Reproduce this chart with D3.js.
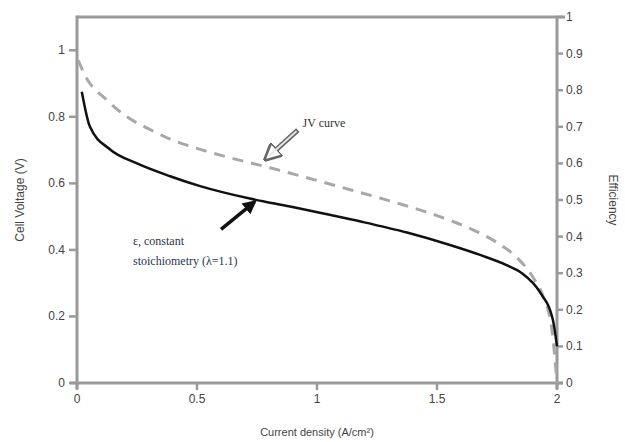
<!DOCTYPE html>
<html>
<head>
<meta charset="utf-8">
<script src="https://cdn.jsdelivr.net/npm/d3@7"></script>
<style>
  body { margin: 0; background: #fff; }
  text { font-family: "Liberation Sans", Arial, sans-serif; }
</style>
</head>
<body>
<script>
// JV curve (dashed, left axis)
var jvCurrent = [0.005, 0.033, 0.125, 0.208, 0.304, 0.388, 0.5, 0.638, 0.804, 1.013, 1.138, 1.333, 1.5, 1.65, 1.75, 1.833, 1.9, 1.942, 1.979, 2.0];
var jvVoltage = [0.97, 0.925, 0.85, 0.8, 0.762, 0.733, 0.705, 0.677, 0.647, 0.606, 0.581, 0.541, 0.503, 0.46, 0.422, 0.377, 0.318, 0.26, 0.16, 0.0];

// efficiency at constant stoichiometry (solid, right axis)
var effCurrent = [0.02, 0.054, 0.138, 0.25, 0.388, 0.513, 0.72, 0.888, 1.042, 1.19, 1.375, 1.554, 1.679, 1.79, 1.854, 1.929, 1.983, 2.0];
var efficiency = [0.796, 0.7, 0.638, 0.6, 0.565, 0.538, 0.504, 0.482, 0.461, 0.44, 0.411, 0.377, 0.35, 0.322, 0.3, 0.248, 0.172, 0.1];

var xTicks = [0, 0.5, 1, 1.5, 2];
var xTickLabels = ['0', '0.5', '1', '1.5', '2'];
var leftTicks = [0, 0.2, 0.4, 0.6, 0.8, 1];
var rightTicks = [0, 0.1, 0.2, 0.3, 0.4, 0.5, 0.6, 0.7, 0.8, 0.9, 1];

var width = 625, height = 442;
var margin = {left: 77, right: 68, top: 17, bottom: 59};
var axisColor = '#9a9a9a';

var svg = d3.select('body').append('svg')
  .attr('width', width)
  .attr('height', height);

var x = d3.scaleLinear().domain([0, 2]).range([margin.left, width - margin.right]);
var yLeft = d3.scaleLinear().domain([0, 1.1]).range([height - margin.bottom, margin.top]);
var yRight = d3.scaleLinear().domain([0, 1]).range([height - margin.bottom, margin.top]);

var x0 = x(0), x1 = x(2), yb = yLeft(0), yt = yRight(1);

// frame: top line, left axis, right axis, bottom axis
svg.append('line').attr('x1', x0).attr('x2', x1 + 8).attr('y1', yt).attr('y2', yt)
  .attr('stroke', axisColor).attr('stroke-width', 3);
svg.append('line').attr('x1', x0).attr('x2', x0).attr('y1', yt - 1.5).attr('y2', yb + 6)
  .attr('stroke', axisColor).attr('stroke-width', 3);
svg.append('line').attr('x1', x1).attr('x2', x1).attr('y1', yt).attr('y2', yb + 6)
  .attr('stroke', axisColor).attr('stroke-width', 3);
svg.append('line').attr('x1', x0 - 7).attr('x2', x1 + 6).attr('y1', yb).attr('y2', yb)
  .attr('stroke', axisColor).attr('stroke-width', 3);

// left ticks
svg.selectAll('.lt').data(leftTicks).enter().append('line')
  .attr('x1', x0 - 8).attr('x2', x0)
  .attr('y1', function(d) { return yLeft(d); })
  .attr('y2', function(d) { return yLeft(d); })
  .attr('stroke', axisColor).attr('stroke-width', 2.5);
svg.selectAll('.ltl').data(leftTicks).enter().append('text')
  .attr('x', x0 - 12)
  .attr('y', function(d) { return yLeft(d) + 4; })
  .attr('text-anchor', 'end')
  .attr('font-size', 12).attr('fill', '#444')
  .text(function(d) { return d === 0 || d === 1 ? d : d.toFixed(1); });

// right ticks
svg.selectAll('.rt').data(rightTicks).enter().append('line')
  .attr('x1', x1).attr('x2', x1 + 6)
  .attr('y1', function(d) { return yRight(d); })
  .attr('y2', function(d) { return yRight(d); })
  .attr('stroke', axisColor).attr('stroke-width', 2.5);
svg.selectAll('.rtl').data(rightTicks).enter().append('text')
  .attr('x', x1 + 9)
  .attr('y', function(d) { return yRight(d) + 4; })
  .attr('font-size', 12).attr('fill', '#444')
  .text(function(d) { return d === 0 || d === 1 ? d : d.toFixed(1); });

// bottom ticks
svg.selectAll('.bt').data(xTicks).enter().append('line')
  .attr('x1', function(d) { return x(d); })
  .attr('x2', function(d) { return x(d); })
  .attr('y1', yb).attr('y2', yb + 7)
  .attr('stroke', axisColor).attr('stroke-width', 2.5);
svg.selectAll('.btl').data(xTicks).enter().append('text')
  .attr('x', function(d) { return x(d); })
  .attr('y', yb + 20)
  .attr('text-anchor', 'middle')
  .attr('font-size', 12).attr('fill', '#444')
  .text(function(d, i) { return xTickLabels[i]; });

// axis titles
svg.append('text')
  .attr('transform', 'translate(24,' + ((yt + yb) / 2) + ') rotate(-90)')
  .attr('text-anchor', 'middle').attr('font-size', 12).attr('fill', '#444')
  .text('Cell Voltage (V)');
svg.append('text')
  .attr('transform', 'translate(609,' + ((yt + yb) / 2) + ') rotate(90)')
  .attr('text-anchor', 'middle').attr('font-size', 12).attr('fill', '#444')
  .text('Efficiency');
svg.append('text')
  .attr('x', x(1)).attr('y', 436)
  .attr('text-anchor', 'middle').attr('font-size', 11).attr('fill', '#444')
  .text('Current density (A/cm²)');

// curves
var jvLine = d3.line()
  .x(function(d, i) { return x(jvCurrent[i]); })
  .y(function(d) { return yLeft(d); })
  .curve(d3.curveMonotoneX);
svg.append('path').datum(jvVoltage)
  .attr('d', jvLine)
  .attr('fill', 'none').attr('stroke', '#a8a8a8')
  .attr('stroke-width', 3).attr('stroke-dasharray', '11,8');

var effLine = d3.line()
  .x(function(d, i) { return x(effCurrent[i]); })
  .y(function(d) { return yRight(d); })
  .curve(d3.curveMonotoneX);
svg.append('path').datum(efficiency)
  .attr('d', effLine)
  .attr('fill', 'none').attr('stroke', '#111')
  .attr('stroke-width', 2.5);

// arrow markers
var defs = svg.append('defs');
defs.append('marker').attr('id', 'headBlack')
  .attr('viewBox', '0 0 10 10').attr('refX', 8).attr('refY', 5)
  .attr('markerWidth', 4).attr('markerHeight', 4).attr('orient', 'auto')
  .append('path').attr('d', 'M0,0 L10,5 L0,10 z').attr('fill', '#111');
defs.append('marker').attr('id', 'headGray')
  .attr('viewBox', '0 0 10 10').attr('refX', 8).attr('refY', 5)
  .attr('markerWidth', 3.5).attr('markerHeight', 3.5).attr('orient', 'auto')
  .append('path').attr('d', 'M0,0 L10,5 L0,10 z')
  .attr('fill', '#fff').attr('stroke', '#666').attr('stroke-width', 1.5);

// efficiency annotation arrow
svg.append('line')
  .attr('x1', x(0.6)).attr('y1', yRight(0.42))
  .attr('x2', x(0.74)).attr('y2', yRight(0.495))
  .attr('stroke', '#111').attr('stroke-width', 3.5)
  .attr('marker-end', 'url(#headBlack)');

// JV annotation arrow (hollow)
svg.append('line')
  .attr('x1', x(0.92)).attr('y1', yLeft(0.76))
  .attr('x2', x(0.79)).attr('y2', yLeft(0.675))
  .attr('stroke', '#666').attr('stroke-width', 5)
  .attr('marker-end', 'url(#headGray)');
svg.append('line')
  .attr('x1', x(0.915)).attr('y1', yLeft(0.757))
  .attr('x2', x(0.8)).attr('y2', yLeft(0.682))
  .attr('stroke', '#e8e8e8').attr('stroke-width', 2);

svg.append('text')
  .attr('x', x(0.94)).attr('y', yLeft(0.77))
  .style('font-family', '"Liberation Serif", serif')
  .attr('font-size', 12).attr('fill', '#333')
  .text('JV curve');

svg.append('text')
  .attr('x', 133).attr('y', 245)
  .style('font-family', '"Liberation Serif", serif')
  .attr('font-size', 12).attr('fill', '#2a3550')
  .text('ε, constant');
svg.append('text')
  .attr('x', 133).attr('y', 265)
  .style('font-family', '"Liberation Serif", serif')
  .attr('font-size', 12).attr('fill', '#2a3550')
  .text('stoichiometry (λ=1.1)');
</script>
</body>
</html>
